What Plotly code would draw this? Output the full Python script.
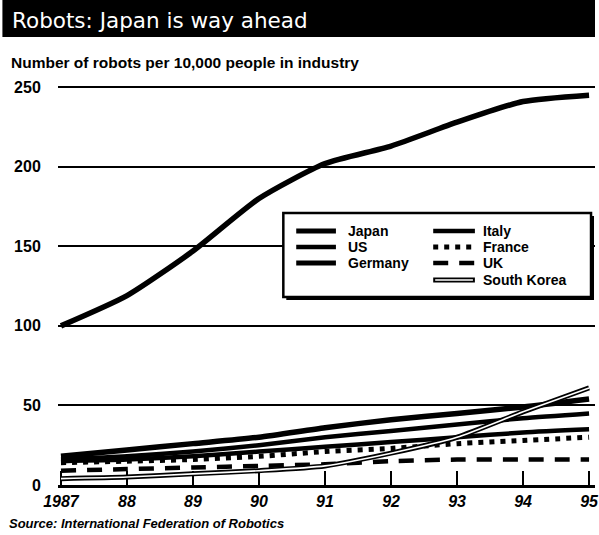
import plotly.graph_objects as go

# --- data: robots per 10,000 people in industry ---
years = [1987, 1988, 1989, 1990, 1991, 1992, 1993, 1994, 1995]
year_labels = ["1987", "88", "89", "90", "91", "92", "93", "94", "95"]
japan = [100, 119, 147, 180, 202, 213, 228, 241, 245]
germany = [18, 22, 26, 30, 36, 41, 45, 49, 54]
italy = [16, 18, 21, 25, 30, 34, 38, 42, 45]
us = [15, 16, 18, 21, 24, 27, 30, 33, 35]
france = [14, 15, 16, 18, 21, 23, 26, 28, 30]
uk = [9, 10, 11, 12, 13, 15, 16, 16, 16]
south_korea = [4, 5, 7, 9, 12, 20, 30, 46, 61]
y_ticks = [0, 50, 100, 150, 200, 250]

# --- page geometry (pixels) ---
W, H = 599, 535
ML, MR, MT, MB = 58, 0, 84, 50
PW, PH = W - ML - MR, H - MT - MB
BASE = H - MB


def xp(px):
    return (px - ML) / PW


def yp(py):
    return (BASE - py) / PH


BOLD = "Liberation Sans, Arial, sans-serif"

styles = {
    "Japan": dict(color="black", width=5.5, dash="solid"),
    "US": dict(color="black", width=4.5, dash="solid"),
    "Germany": dict(color="black", width=5.5, dash="solid"),
    "Italy": dict(color="black", width=4.5, dash="solid"),
    "France": dict(color="black", width=5, dash="5px,6px"),
    "UK": dict(color="black", width=4.5, dash="15px,11px"),
    "South Korea": dict(color="black", width=5, dash="solid"),
}

series = [
    ("US", us),
    ("Italy", italy),
    ("Germany", germany),
    ("France", france),
    ("UK", uk),
    ("South Korea", south_korea),
    ("Japan", japan),
]

fig = go.Figure()
for name, vals in series:
    fig.add_trace(go.Scatter(
        x=years, y=vals, name=name, mode="lines",
        line=dict(shape="spline", smoothing=0.6, **styles[name]),
        showlegend=False, hoverinfo="skip",
    ))
    if name == "South Korea":
        # hollow core for the double-rule line
        fig.add_trace(go.Scatter(
            x=years, y=vals, name=name, mode="lines",
            line=dict(shape="spline", smoothing=0.6, color="white", width=1.6),
            showlegend=False, hoverinfo="skip",
        ))

shapes = []
annotations = []

# title bar
shapes.append(dict(type="rect", xref="paper", yref="paper",
                   x0=xp(2), x1=xp(W), y0=yp(0), y1=yp(37),
                   fillcolor="black", line=dict(width=0), layer="above"))
annotations.append(dict(text="Robots: Japan is way ahead", xref="paper", yref="paper",
                        x=xp(10), y=yp(21), xanchor="left", yanchor="middle",
                        showarrow=False,
                        font=dict(family="DejaVu Sans", size=21.5, color="white")))
annotations.append(dict(text="Number of robots per 10,000 people in industry",
                        xref="paper", yref="paper", x=xp(9), y=yp(62),
                        xanchor="left", yanchor="middle", showarrow=False,
                        font=dict(family=BOLD, size=15.5, color="black", weight="bold")))
annotations.append(dict(text="Source: International Federation of Robotics",
                        xref="paper", yref="paper", x=xp(7), y=yp(523),
                        xanchor="left", yanchor="middle", showarrow=False,
                        font=dict(family=BOLD, size=13, color="black",
                                  weight="bold", style="italic")))

# legend box with drop shadow
shapes.append(dict(type="rect", xref="paper", yref="paper",
                   x0=xp(288), x1=xp(598), y0=yp(300), y1=yp(216),
                   fillcolor="black", line=dict(width=0), layer="above"))
shapes.append(dict(type="rect", xref="paper", yref="paper",
                   x0=xp(285), x1=xp(595), y0=yp(297), y1=yp(213),
                   fillcolor="white", line=dict(color="black", width=2.5), layer="above"))

legend_items = [
    ("Japan", 0, 0), ("US", 0, 1), ("Germany", 0, 2),
    ("Italy", 1, 0), ("France", 1, 1), ("UK", 1, 2), ("South Korea", 1, 3),
]
sample_x = [(298, 338), (436, 478)]
text_x = [348, 484]
row_y = [231, 247, 263, 280]
for name, col, row in legend_items:
    st = styles[name]
    x0, x1 = sample_x[col]
    yy = yp(row_y[row])
    shapes.append(dict(type="line", xref="paper", yref="paper",
                       x0=xp(x0), x1=xp(x1), y0=yy, y1=yy, layer="above",
                       line=dict(color="black", width=min(st["width"], 5), dash=st["dash"])))
    if name == "South Korea":
        shapes.append(dict(type="line", xref="paper", yref="paper",
                           x0=xp(x0 + 2), x1=xp(x1 - 2), y0=yy, y1=yy, layer="above",
                           line=dict(color="white", width=1.6)))
    annotations.append(dict(text=name, xref="paper", yref="paper",
                            x=xp(text_x[col]), y=yy, xanchor="left", yanchor="middle",
                            showarrow=False,
                            font=dict(family=BOLD, size=14, color="black", weight="bold")))

fig.update_layout(
    width=W, height=H,
    margin=dict(l=ML, r=MR, t=MT, b=MB, pad=0),
    paper_bgcolor="white", plot_bgcolor="white",
    showlegend=False,
    shapes=shapes, annotations=annotations,
    xaxis=dict(
        range=[1986.955, 1995.09], tickmode="array",
        tickvals=years, ticktext=year_labels,
        ticks="inside", ticklen=14, tickwidth=2, tickcolor="black",
        showline=True, linecolor="black", linewidth=2.5,
        showgrid=False, zeroline=False, layer="below traces",
        ticklabeloverflow="allow",
        tickfont=dict(family=BOLD, size=16, color="black", weight="bold", style="italic"),
    ),
    yaxis=dict(
        range=[0, 252], tickmode="array", tickvals=y_ticks,
        ticktext=[str(v) for v in y_ticks],
        ticks="outside", ticklen=13, tickcolor="rgba(0,0,0,0)",
        showgrid=True, gridcolor="black", gridwidth=2,
        zeroline=False, showline=False, layer="below traces",
        tickfont=dict(family=BOLD, size=16, color="black", weight="bold"),
    ),
)

fig.write_html("out.html")
